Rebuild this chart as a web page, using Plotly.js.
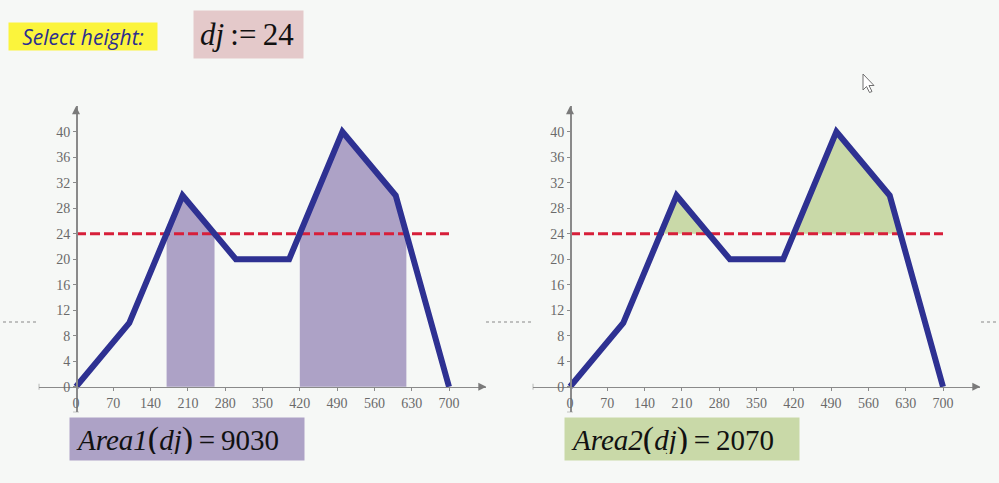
<!DOCTYPE html>
<html><head><meta charset="utf-8">
<script src="https://cdn.plot.ly/plotly-3.0.1.min.js"></script>
<style>html,body{margin:0;padding:0;background:#f6f8f6;}#chart{width:999px;height:483px;}</style>
</head><body><div id="chart"></div>
<script>
// ---- data ----
const xData = [0, 100, 200, 300, 400, 500, 600, 700];
const yData = [0, 10, 30, 20, 20, 40, 30, 0];
const dj = 24;
const xTickVals = [0, 70, 140, 210, 280, 350, 420, 490, 560, 630, 700];
const yTickVals = [0, 4, 8, 12, 16, 20, 24, 28, 32, 36, 40];
const xRange = [-70, 770];
const yRange = [-4, 44];

// ---- regions of the curve above the level dj ----
function segmentsAbove(level) {
  const segs = [];
  let cur = null;
  for (let i = 0; i < xData.length - 1; i++) {
    const x0 = xData[i], y0 = yData[i], x1 = xData[i + 1], y1 = yData[i + 1];
    if (cur && y0 > level) cur.push([x0, y0]);
    if ((y0 - level) * (y1 - level) < 0) {
      const xc = x0 + (level - y0) * (x1 - x0) / (y1 - y0);
      if (y1 > level) { cur = [[xc, level]]; }
      else { cur.push([xc, level]); segs.push(cur); cur = null; }
    }
  }
  return segs;
}
const segs = segmentsAbove(dj);

function polyArea(pts) {
  let a = 0;
  for (let i = 0; i < pts.length; i++) {
    const p = pts[i], q = pts[(i + 1) % pts.length];
    a += p[0] * q[1] - q[0] * p[1];
  }
  return Math.abs(a) / 2;
}

const fill1x = [], fill1y = [], fill2x = [], fill2y = [];
let area1 = 0, area2 = 0;
segs.forEach(s => {
  const xa = s[0][0], xb = s[s.length - 1][0];
  const p1 = [[xa, 0]].concat(s).concat([[xb, 0]]);
  area1 += polyArea(p1);
  area2 += polyArea(s);
  p1.forEach(p => { fill1x.push(p[0]); fill1y.push(p[1]); });
  fill1x.push(null); fill1y.push(null);
  s.forEach(p => { fill2x.push(p[0]); fill2y.push(p[1]); });
  fill2x.push(null); fill2y.push(null);
});

// ---- geometry helpers ----
const W = 999, H = 483;
const px = v => v / W;
const py = v => 1 - v / H;
const xDom1 = [px(38.7), px(486.3)];
const xDom2 = [px(532.7), px(980.3)];
const yDom = [py(412.3), py(106.2)];
const frac = (r, d, v) => d[0] + (v - r[0]) / (r[1] - r[0]) * (d[1] - d[0]);

const navy = '#2e3192', red = '#d71f3a', purple = '#ada2c6', green = '#c9d9a8', axc = '#8a8a8a';

function traces(xa, ya, fx, fy, fc) {
  return [
    {x: fx, y: fy, xaxis: xa, yaxis: ya, type: 'scatter', mode: 'lines', fill: 'toself',
     fillcolor: fc, line: {width: 0, color: fc}, hoverinfo: 'skip'},
    {x: [0, 700], y: [dj, dj], xaxis: xa, yaxis: ya, type: 'scatter', mode: 'lines',
     line: {color: red, width: 3, dash: '10px,4px'}, hoverinfo: 'skip'},
    {x: xData, y: yData, xaxis: xa, yaxis: ya, type: 'scatter', mode: 'lines',
     line: {color: navy, width: 6}, hoverinfo: 'skip'}
  ];
}

const data = traces('x', 'y', fill1x, fill1y, purple).concat(traces('x2', 'y2', fill2x, fill2y, green));

const tickFont = {family: 'Liberation Serif', size: 14, color: '#6a6a6a'};
function xAxis(dom) {
  return {domain: dom, range: xRange, anchor: 'free', position: frac(yRange, yDom, 0),
    showgrid: false, zeroline: false, showline: true, linecolor: axc, linewidth: 1.5,
    ticks: 'outside', ticklen: 3, tickwidth: 1, tickcolor: axc, tickmode: 'array',
    tickvals: xTickVals, tickfont: tickFont, fixedrange: true};
}
function yAxis(xdom) {
  return {domain: yDom, range: yRange, anchor: 'free', position: frac(xRange, xdom, 0),
    showgrid: false, zeroline: false, showline: true, linecolor: axc, linewidth: 1.5,
    ticks: 'outside', ticklen: 3, tickwidth: 1, tickcolor: axc, tickmode: 'array',
    tickvals: yTickVals, tickfont: tickFont, fixedrange: true};
}

const shapes = [];
[['x', 'y'], ['x2', 'y2']].forEach(([xr, yr]) => {
  shapes.push({type: 'path', xref: xr, yref: yr, xsizemode: 'pixel', ysizemode: 'pixel',
    xanchor: xRange[1], yanchor: 0, path: 'M0,0 L-8,4 L-8,-4 Z', fillcolor: '#7a7a7a', line: {width: 0}});
  shapes.push({type: 'path', xref: xr, yref: yr, xsizemode: 'pixel', ysizemode: 'pixel',
    xanchor: 0, yanchor: yRange[1], path: 'M0,0 L-4,-8 L4,-8 Z', fillcolor: '#7a7a7a', line: {width: 0}});
  shapes.push({type: 'line', xref: xr, yref: yr, xsizemode: 'pixel', ysizemode: 'pixel',
    xanchor: xRange[0], yanchor: 0, x0: 0, x1: 0, y0: -3, y1: 3, line: {color: axc, width: 1.2}});
  shapes.push({type: 'line', xref: xr, yref: yr, xsizemode: 'pixel', ysizemode: 'pixel',
    xanchor: 0, yanchor: yRange[0], x0: -3, x1: 3, y0: 0, y1: 0, line: {color: axc, width: 1.2}});
});
[[3, 38], [486, 533], [981, 999]].forEach(([a, b]) => {
  shapes.push({type: 'line', xref: 'paper', yref: 'paper', x0: px(a), x1: px(b), y0: py(322), y1: py(322),
    line: {color: '#888', width: 1, dash: '3px,3px'}});
});
// mouse pointer
const cur = [[863, 74], [863, 90], [866.5, 86.5], [869.5, 92.5], [872, 91.5], [869, 85.5], [874, 85.5]];
shapes.push({type: 'path', xref: 'paper', yref: 'paper',
  path: 'M' + cur.map(p => px(p[0]) + ',' + py(p[1])).join(' L') + ' Z',
  fillcolor: '#ffffff', line: {color: '#707070', width: 1}});

const annotations = [
  {xref: 'paper', yref: 'paper', x: px(8), y: py(22), xanchor: 'left', yanchor: 'top',
   width: 148, height: 27, borderpad: 0, bgcolor: '#fbf43c', align: 'center', valign: 'middle', showarrow: false,
   text: '<i>Select height:</i>', font: {family: 'Open Sans', size: 21, color: '#2b2e8f'}},
  {xref: 'paper', yref: 'paper', x: px(193), y: py(10), xanchor: 'left', yanchor: 'top',
   width: 97, height: 35, borderpad: 6, bgcolor: '#e4c9ca', align: 'left', valign: 'middle', showarrow: false,
   text: '<i>dj</i>\u2009:=\u200924', font: {family: 'Liberation Serif', size: 31, color: '#111'}},
  {xref: 'paper', yref: 'paper', x: px(69), y: py(417), xanchor: 'left', yanchor: 'top',
   width: 222, height: 30, borderpad: 6, bgcolor: purple, align: 'left', valign: 'middle', showarrow: false,
   text: '<i>Area1</i><span style="font-size:34px">(</span><i>dj</i><span style="font-size:34px">)</span>\u2009=\u2009' + Math.round(area1),
   font: {family: 'Liberation Serif', size: 29, color: '#111'}},
  {xref: 'paper', yref: 'paper', x: px(564), y: py(417), xanchor: 'left', yanchor: 'top',
   width: 222, height: 30, borderpad: 6, bgcolor: green, align: 'left', valign: 'middle', showarrow: false,
   text: '<i>Area2</i><span style="font-size:34px">(</span><i>dj</i><span style="font-size:34px">)</span>\u2009=\u2009' + Math.round(area2),
   font: {family: 'Liberation Serif', size: 29, color: '#111'}}
];

const layout = {
  width: W, height: H, margin: {l: 0, r: 0, t: 0, b: 0},
  paper_bgcolor: '#f6f8f6', plot_bgcolor: 'rgba(0,0,0,0)', showlegend: false,
  xaxis: xAxis(xDom1), yaxis: yAxis(xDom1),
  xaxis2: xAxis(xDom2), yaxis2: yAxis(xDom2),
  shapes: shapes, annotations: annotations
};
Plotly.newPlot('chart', data, layout, {displayModeBar: false, staticPlot: true});
</script></body></html>
